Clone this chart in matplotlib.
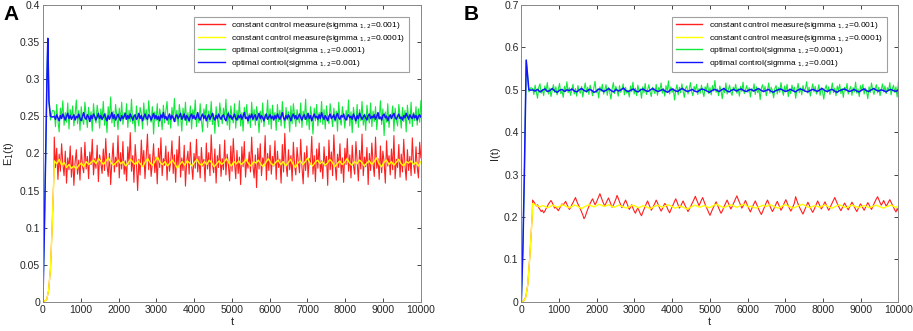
import numpy as np
import matplotlib
matplotlib.use("Agg")
import matplotlib.pyplot as plt
from matplotlib.ticker import FuncFormatter, MultipleLocator

plt.rcParams['font.family'] = ['Liberation Sans', 'DejaVu Sans']

labels = [
    'constant control measure(sigmma $_{1,2}$=0.001)',
    'constant control measure(sigmma $_{1,2}$=0.0001)',
    'optimal control(sigmma $_{1,2}$=0.0001)',
    'optimal control(sigmma $_{1,2}$=0.001)',
]
colors = ['#ff2020', '#ffff00', '#12e83c', '#1414ff']
widths = [0.8, 1.0, 0.8, 1.1]

# ---------- panel A : E1(t) ----------
# start-up part of each curve (t, value)
rise_t_a_const = [0, 100, 150, 200, 240, 270, 290]
rise_a_const = [0, 0.003, 0.015, 0.045, 0.095, 0.14, 0.17]
rise_t_a_opt = [0, 40, 80, 110, 130, 160, 200, 250]
rise_a_green = [0, 0.10, 0.22, 0.31, 0.355, 0.27, 0.245, 0.258]
rise_a_blue = [0, 0.10, 0.22, 0.31, 0.355, 0.27, 0.25, 0.249]

# values from t=300 to t=10000
red_a = [
    0.222, 0.181, 0.207, 0.165, 0.199, 0.176, 0.213, 0.186, 0.170, 0.203, 0.160, 0.194, 0.178, 0.210, 0.168, 0.197, 0.157, 0.188, 0.205, 0.172,
    0.191, 0.164, 0.208, 0.183, 0.174, 0.215, 0.179, 0.196, 0.166, 0.202, 0.185, 0.219, 0.171, 0.193, 0.180, 0.211, 0.162, 0.198, 0.187, 0.173,
    0.206, 0.177, 0.220, 0.184, 0.169, 0.200, 0.158, 0.189, 0.214, 0.175, 0.195, 0.182, 0.224, 0.167, 0.201, 0.179, 0.216, 0.172, 0.190, 0.163,
    0.209, 0.185, 0.228, 0.176, 0.197, 0.161, 0.212, 0.188, 0.150, 0.192, 0.171, 0.218, 0.183, 0.204, 0.166, 0.196, 0.226, 0.178, 0.199, 0.169,
    0.187, 0.213, 0.174, 0.195, 0.159, 0.207, 0.181, 0.221, 0.170, 0.193, 0.184, 0.210, 0.164, 0.202, 0.176, 0.190, 0.217, 0.173, 0.198, 0.161,
    0.205, 0.182, 0.223, 0.168, 0.194, 0.177, 0.211, 0.156, 0.189, 0.203, 0.172, 0.215, 0.185, 0.165, 0.200, 0.180, 0.219, 0.175, 0.196, 0.167,
    0.208, 0.183, 0.192, 0.162, 0.214, 0.179, 0.201, 0.170, 0.225, 0.186, 0.174, 0.206, 0.160, 0.197, 0.181, 0.212, 0.169, 0.193, 0.178, 0.218,
    0.171, 0.199, 0.185, 0.163, 0.210, 0.176, 0.220, 0.188, 0.166, 0.204, 0.173, 0.195, 0.158, 0.209, 0.182, 0.216, 0.168, 0.191, 0.180, 0.202,
    0.175, 0.222, 0.184, 0.167, 0.198, 0.154, 0.207, 0.179, 0.213, 0.170, 0.194, 0.186, 0.224, 0.164, 0.200, 0.177, 0.211, 0.172, 0.196, 0.183,
    0.217, 0.165, 0.203, 0.181, 0.192, 0.160, 0.212, 0.175, 0.227, 0.186, 0.169, 0.205, 0.178, 0.197, 0.163, 0.215, 0.184, 0.171, 0.208, 0.189,
    0.174, 0.219, 0.182, 0.159, 0.201, 0.177, 0.210, 0.168, 0.193, 0.185, 0.223, 0.172, 0.197, 0.162, 0.206, 0.180, 0.214, 0.175, 0.190, 0.166,
    0.209, 0.183, 0.196, 0.157, 0.218, 0.178, 0.202, 0.170, 0.225, 0.187, 0.164, 0.199, 0.181, 0.213, 0.173, 0.194, 0.161, 0.207, 0.185, 0.220,
    0.176, 0.198, 0.167, 0.211, 0.184, 0.172, 0.216, 0.190, 0.163, 0.204, 0.179, 0.226, 0.170, 0.195, 0.182, 0.208, 0.158, 0.200, 0.177, 0.214,
    0.186, 0.169, 0.222, 0.180, 0.193, 0.165, 0.210, 0.174, 0.203, 0.188, 0.160, 0.217, 0.183, 0.197, 0.171, 0.206, 0.178, 0.224, 0.166, 0.192,
    0.181, 0.212, 0.168, 0.199, 0.175, 0.219, 0.184, 0.164, 0.205, 0.177, 0.196, 0.170, 0.221, 0.186, 0.173, 0.209, 0.182, 0.167, 0.215, 0.194,
]
yellow_a = [
    0.190, 0.186, 0.192, 0.184, 0.188, 0.181, 0.185, 0.180, 0.183, 0.179, 0.184, 0.187, 0.182, 0.189, 0.185,
    0.188, 0.191, 0.186, 0.193, 0.189, 0.185, 0.190, 0.194, 0.188, 0.184, 0.187, 0.191, 0.186, 0.189, 0.183,
    0.187, 0.192, 0.188, 0.185, 0.190, 0.186, 0.182, 0.189, 0.193, 0.187, 0.184, 0.190, 0.195, 0.188, 0.185,
    0.189, 0.183, 0.187, 0.191, 0.186, 0.180, 0.185, 0.189, 0.184, 0.190, 0.187, 0.183, 0.188, 0.192, 0.186,
    0.184, 0.189, 0.185, 0.191, 0.187, 0.182, 0.186, 0.190, 0.185, 0.188, 0.193, 0.187, 0.183, 0.189, 0.186,
    0.190, 0.185, 0.188, 0.192, 0.186, 0.183, 0.189, 0.187, 0.191, 0.185, 0.182, 0.188, 0.193, 0.187, 0.184,
    0.188, 0.191, 0.185, 0.189, 0.183, 0.187, 0.192, 0.186, 0.181, 0.187, 0.190, 0.185, 0.189, 0.194, 0.186,
    0.183, 0.188, 0.191, 0.186, 0.189, 0.184, 0.187, 0.192, 0.188, 0.182, 0.186, 0.190, 0.185, 0.188, 0.193,
    0.187, 0.184, 0.189, 0.186, 0.191, 0.188, 0.183, 0.187, 0.190, 0.185, 0.189, 0.194, 0.186, 0.182, 0.188,
    0.191, 0.185, 0.189, 0.184, 0.188, 0.192, 0.186, 0.183, 0.189, 0.187, 0.190, 0.185, 0.188, 0.183, 0.189,
]
green_a = [
    0.257, 0.236, 0.266, 0.244, 0.229, 0.261, 0.249, 0.271, 0.238, 0.255, 0.242, 0.268, 0.233, 0.259, 0.247, 0.264, 0.237, 0.253, 0.272, 0.240,
    0.258, 0.231, 0.263, 0.246, 0.239, 0.269, 0.251, 0.235, 0.262, 0.243, 0.256, 0.230, 0.267, 0.248, 0.241, 0.265, 0.252, 0.234, 0.260, 0.245,
    0.270, 0.238, 0.254, 0.228, 0.263, 0.247, 0.276, 0.241, 0.257, 0.236, 0.266, 0.250, 0.232, 0.261, 0.244, 0.269, 0.239, 0.255, 0.246, 0.267,
    0.235, 0.258, 0.243, 0.273, 0.240, 0.252, 0.229, 0.264, 0.248, 0.237, 0.262, 0.254, 0.233, 0.268, 0.245, 0.259, 0.238, 0.271, 0.250, 0.242,
    0.263, 0.226, 0.256, 0.244, 0.267, 0.236, 0.260, 0.249, 0.232, 0.265, 0.241, 0.257, 0.270, 0.239, 0.253, 0.234, 0.262, 0.247, 0.274, 0.243,
    0.258, 0.237, 0.266, 0.251, 0.230, 0.261, 0.245, 0.269, 0.238, 0.255, 0.242, 0.264, 0.233, 0.259, 0.248, 0.272, 0.236, 0.254, 0.241, 0.267,
    0.244, 0.229, 0.260, 0.250, 0.266, 0.235, 0.257, 0.243, 0.270, 0.239, 0.253, 0.227, 0.263, 0.247, 0.236, 0.268, 0.252, 0.240, 0.261, 0.246,
    0.273, 0.238, 0.256, 0.232, 0.264, 0.249, 0.241, 0.267, 0.234, 0.258, 0.245, 0.271, 0.237, 0.255, 0.230, 0.262, 0.248, 0.266, 0.240, 0.254,
    0.235, 0.269, 0.244, 0.259, 0.238, 0.263, 0.251, 0.228, 0.257, 0.242, 0.268, 0.236, 0.253, 0.247, 0.272, 0.239, 0.260, 0.233, 0.265, 0.246,
    0.255, 0.231, 0.266, 0.243, 0.258, 0.237, 0.270, 0.249, 0.234, 0.262, 0.245, 0.256, 0.229, 0.264, 0.240, 0.267, 0.252, 0.236, 0.259, 0.248,
    0.241, 0.268, 0.235, 0.257, 0.246, 0.273, 0.238, 0.254, 0.232, 0.263, 0.250, 0.226, 0.261, 0.244, 0.266, 0.237, 0.255, 0.242, 0.270, 0.239,
    0.259, 0.233, 0.264, 0.248, 0.240, 0.267, 0.252, 0.236, 0.261, 0.243, 0.257, 0.230, 0.269, 0.246, 0.238, 0.263, 0.250, 0.234, 0.258, 0.245,
    0.272, 0.237, 0.256, 0.228, 0.262, 0.247, 0.240, 0.266, 0.235, 0.259, 0.244, 0.270, 0.238, 0.253, 0.231, 0.265, 0.249, 0.241, 0.268, 0.236,
    0.257, 0.243, 0.263, 0.232, 0.254, 0.246, 0.271, 0.239, 0.260, 0.224, 0.256, 0.242, 0.267, 0.235, 0.252, 0.248, 0.264, 0.230, 0.261, 0.245,
    0.237, 0.266, 0.250, 0.234, 0.262, 0.243, 0.258, 0.229, 0.265, 0.247, 0.240, 0.269, 0.236, 0.255, 0.244, 0.263, 0.238, 0.260, 0.242, 0.271,
]
blue_a = [
    0.250, 0.246, 0.252, 0.248, 0.244, 0.251, 0.247, 0.253, 0.249, 0.245, 0.250, 0.254, 0.247, 0.251, 0.246, 0.249, 0.252, 0.245, 0.250, 0.248,
    0.253, 0.247, 0.244, 0.250, 0.255, 0.248, 0.246, 0.252, 0.249, 0.243, 0.251, 0.247, 0.253, 0.250, 0.245, 0.249, 0.254, 0.247, 0.251, 0.246,
    0.249, 0.253, 0.248, 0.244, 0.251, 0.246, 0.250, 0.255, 0.247, 0.252, 0.245, 0.249, 0.253, 0.248, 0.244, 0.251, 0.247, 0.250, 0.254, 0.246,
    0.251, 0.247, 0.253, 0.249, 0.245, 0.250, 0.252, 0.246, 0.248, 0.254, 0.247, 0.251, 0.244, 0.249, 0.253, 0.248, 0.246, 0.252, 0.250, 0.245,
    0.249, 0.254, 0.247, 0.251, 0.246, 0.250, 0.244, 0.252, 0.248, 0.255, 0.247, 0.250, 0.245, 0.249, 0.253, 0.246, 0.251, 0.248, 0.243, 0.250,
    0.252, 0.247, 0.250, 0.254, 0.246, 0.249, 0.253, 0.245, 0.251, 0.248, 0.244, 0.250, 0.253, 0.247, 0.251, 0.246, 0.249, 0.255, 0.248, 0.245,
    0.250, 0.253, 0.247, 0.251, 0.244, 0.249, 0.252, 0.246, 0.250, 0.254, 0.248, 0.245, 0.251, 0.247, 0.253, 0.249, 0.246, 0.250, 0.252, 0.247,
    0.244, 0.250, 0.254, 0.248, 0.251, 0.246, 0.249, 0.253, 0.247, 0.245, 0.251, 0.248, 0.252, 0.246, 0.250, 0.255, 0.247, 0.249, 0.244, 0.251,
    0.248, 0.253, 0.246, 0.250, 0.252, 0.245, 0.249, 0.254, 0.247, 0.251, 0.248, 0.244, 0.250, 0.253, 0.246, 0.249, 0.252, 0.247, 0.250, 0.245,
    0.251, 0.247, 0.253, 0.249, 0.246, 0.250, 0.255, 0.248, 0.245, 0.251, 0.247, 0.252, 0.249, 0.244, 0.250, 0.253, 0.247, 0.251, 0.246, 0.249,
    0.253, 0.248, 0.245, 0.250, 0.252, 0.246, 0.249, 0.254, 0.247, 0.251, 0.244, 0.249, 0.253, 0.248, 0.250, 0.246, 0.252, 0.247, 0.255, 0.249,
    0.246, 0.251, 0.248, 0.244, 0.250, 0.253, 0.247, 0.249, 0.252, 0.245, 0.250, 0.254, 0.248, 0.246, 0.251, 0.249, 0.253, 0.247, 0.245, 0.250,
    0.252, 0.248, 0.250, 0.246, 0.253, 0.249, 0.244, 0.251, 0.247, 0.254, 0.250, 0.246, 0.249, 0.252, 0.248, 0.245, 0.251, 0.253, 0.247, 0.250,
    0.248, 0.252, 0.246, 0.250, 0.255, 0.247, 0.249, 0.245, 0.251, 0.253, 0.248, 0.250, 0.244, 0.249, 0.252, 0.247, 0.251, 0.254, 0.248, 0.246,
    0.250, 0.253, 0.247, 0.249, 0.245, 0.251, 0.248, 0.254, 0.250, 0.246, 0.252, 0.249, 0.247, 0.253, 0.248, 0.251, 0.245, 0.250, 0.252, 0.249,
]

# ---------- panel B : I(t) ----------
rise_t_b_const = [0, 60, 120, 170, 220, 260, 290]
rise_b_const = [0, 0.002, 0.012, 0.04, 0.10, 0.16, 0.205]
rise_t_b_opt = [0, 40, 80, 110, 130, 160, 200, 250]
rise_b_green = [0, 0.12, 0.30, 0.46, 0.57, 0.54, 0.495, 0.505]
rise_b_blue = [0, 0.12, 0.30, 0.46, 0.57, 0.54, 0.50, 0.499]

red_b = [
    0.240, 0.236, 0.231, 0.226, 0.229, 0.222, 0.218, 0.213, 0.216, 0.210, 0.214, 0.220, 0.225, 0.231, 0.235, 0.239, 0.234, 0.227, 0.221, 0.224,
    0.219, 0.215, 0.220, 0.226, 0.231, 0.228, 0.233, 0.237, 0.230, 0.224, 0.218, 0.222, 0.229, 0.234, 0.240, 0.246, 0.238, 0.231, 0.225, 0.219,
    0.212, 0.205, 0.196, 0.201, 0.210, 0.218, 0.225, 0.232, 0.238, 0.243, 0.236, 0.229, 0.234, 0.241, 0.248, 0.255, 0.247, 0.239, 0.232, 0.226,
    0.233, 0.239, 0.245, 0.238, 0.230, 0.223, 0.228, 0.235, 0.242, 0.251, 0.244, 0.236, 0.229, 0.222, 0.227, 0.234, 0.240, 0.233, 0.225, 0.218,
    0.223, 0.229, 0.221, 0.214, 0.209, 0.216, 0.222, 0.215, 0.208, 0.203, 0.211, 0.218, 0.225, 0.232, 0.238, 0.230, 0.223, 0.216, 0.221, 0.227,
    0.233, 0.240, 0.234, 0.227, 0.220, 0.214, 0.219, 0.226, 0.232, 0.229, 0.222, 0.215, 0.210, 0.217, 0.224, 0.230, 0.237, 0.243, 0.236, 0.228,
    0.221, 0.226, 0.232, 0.238, 0.231, 0.225, 0.219, 0.213, 0.218, 0.224, 0.230, 0.236, 0.242, 0.249, 0.241, 0.234, 0.227, 0.233, 0.240, 0.246,
    0.238, 0.230, 0.223, 0.217, 0.210, 0.204, 0.211, 0.218, 0.224, 0.230, 0.236, 0.229, 0.222, 0.215, 0.209, 0.214, 0.221, 0.228, 0.234, 0.240,
    0.233, 0.226, 0.219, 0.224, 0.231, 0.237, 0.244, 0.250, 0.242, 0.235, 0.228, 0.221, 0.226, 0.233, 0.239, 0.232, 0.225, 0.218, 0.212, 0.219,
    0.226, 0.232, 0.238, 0.231, 0.224, 0.217, 0.211, 0.206, 0.213, 0.220, 0.227, 0.234, 0.240, 0.233, 0.226, 0.219, 0.213, 0.218, 0.225, 0.231,
    0.237, 0.230, 0.223, 0.216, 0.221, 0.228, 0.235, 0.241, 0.234, 0.227, 0.220, 0.214, 0.219, 0.226, 0.233, 0.248, 0.239, 0.231, 0.224, 0.218,
    0.212, 0.207, 0.214, 0.221, 0.228, 0.235, 0.229, 0.222, 0.216, 0.211, 0.217, 0.224, 0.231, 0.238, 0.232, 0.225, 0.219, 0.224, 0.230, 0.236,
    0.229, 0.222, 0.216, 0.221, 0.228, 0.234, 0.240, 0.246, 0.239, 0.232, 0.226, 0.220, 0.215, 0.221, 0.227, 0.233, 0.228, 0.222, 0.217, 0.223,
    0.229, 0.235, 0.230, 0.224, 0.218, 0.213, 0.219, 0.225, 0.231, 0.227, 0.221, 0.216, 0.222, 0.228, 0.234, 0.229, 0.223, 0.218, 0.224, 0.231,
    0.237, 0.243, 0.248, 0.241, 0.234, 0.228, 0.233, 0.239, 0.232, 0.226, 0.230, 0.236, 0.241, 0.235, 0.229, 0.223, 0.217, 0.212, 0.220, 0.214,
]
yellow_b = [
    0.232, 0.229, 0.226, 0.224, 0.227, 0.225, 0.222, 0.224, 0.228, 0.226, 0.223, 0.225, 0.229, 0.227, 0.224,
    0.222, 0.225, 0.228, 0.226, 0.223, 0.220, 0.224, 0.227, 0.229, 0.226, 0.224, 0.227, 0.230, 0.228, 0.225,
    0.227, 0.229, 0.226, 0.223, 0.225, 0.228, 0.226, 0.224, 0.221, 0.223, 0.226, 0.228, 0.225, 0.222, 0.224,
    0.227, 0.225, 0.222, 0.220, 0.223, 0.226, 0.228, 0.225, 0.223, 0.226, 0.229, 0.227, 0.224, 0.221, 0.223,
    0.226, 0.224, 0.221, 0.219, 0.222, 0.225, 0.228, 0.226, 0.223, 0.225, 0.227, 0.224, 0.222, 0.225, 0.228,
    0.230, 0.227, 0.224, 0.222, 0.225, 0.227, 0.229, 0.226, 0.223, 0.225, 0.228, 0.230, 0.227, 0.224, 0.226,
    0.223, 0.221, 0.224, 0.226, 0.228, 0.225, 0.227, 0.229, 0.226, 0.223, 0.221, 0.224, 0.227, 0.229, 0.226,
    0.224, 0.221, 0.223, 0.226, 0.228, 0.230, 0.227, 0.224, 0.222, 0.225, 0.227, 0.225, 0.223, 0.226, 0.228,
    0.226, 0.223, 0.221, 0.224, 0.227, 0.229, 0.226, 0.224, 0.222, 0.225, 0.228, 0.226, 0.224, 0.222, 0.225,
    0.227, 0.225, 0.222, 0.224, 0.226, 0.228, 0.225, 0.223, 0.221, 0.224, 0.226, 0.228, 0.225, 0.223, 0.226,
]
green_b = [
    0.503, 0.489, 0.511, 0.495, 0.480, 0.506, 0.514, 0.492, 0.501, 0.486, 0.509, 0.497, 0.517, 0.490, 0.504, 0.484, 0.499, 0.512, 0.494, 0.507,
    0.488, 0.502, 0.515, 0.491, 0.498, 0.482, 0.508, 0.496, 0.519, 0.493, 0.505, 0.487, 0.500, 0.513, 0.490, 0.503, 0.485, 0.510, 0.497, 0.492,
    0.508, 0.483, 0.501, 0.516, 0.494, 0.506, 0.489, 0.511, 0.499, 0.486, 0.504, 0.520, 0.493, 0.502, 0.481, 0.507, 0.496, 0.513, 0.490, 0.500,
    0.512, 0.487, 0.505, 0.495, 0.478, 0.503, 0.517, 0.491, 0.508, 0.498, 0.485, 0.510, 0.494, 0.501, 0.514, 0.488, 0.506, 0.492, 0.499, 0.483,
    0.509, 0.496, 0.518, 0.490, 0.504, 0.486, 0.511, 0.497, 0.502, 0.480, 0.507, 0.493, 0.515, 0.489, 0.500, 0.512, 0.495, 0.484, 0.506, 0.498,
    0.491, 0.513, 0.487, 0.505, 0.499, 0.516, 0.492, 0.503, 0.485, 0.510, 0.496, 0.521, 0.490, 0.507, 0.494, 0.502, 0.476, 0.500, 0.512, 0.488,
    0.506, 0.493, 0.514, 0.497, 0.482, 0.504, 0.509, 0.490, 0.501, 0.517, 0.495, 0.486, 0.508, 0.499, 0.513, 0.489, 0.503, 0.492, 0.511, 0.496,
    0.484, 0.507, 0.500, 0.515, 0.491, 0.505, 0.488, 0.510, 0.497, 0.522, 0.494, 0.502, 0.486, 0.509, 0.498, 0.479, 0.504, 0.493, 0.516, 0.490,
    0.501, 0.511, 0.495, 0.487, 0.506, 0.499, 0.513, 0.492, 0.503, 0.485, 0.508, 0.496, 0.518, 0.491, 0.500, 0.510, 0.494, 0.505, 0.483, 0.502,
    0.497, 0.514, 0.489, 0.507, 0.493, 0.501, 0.477, 0.504, 0.512, 0.495, 0.508, 0.486, 0.500, 0.516, 0.492, 0.506, 0.498, 0.481, 0.503, 0.510,
    0.490, 0.505, 0.494, 0.517, 0.499, 0.487, 0.509, 0.496, 0.513, 0.484, 0.502, 0.491, 0.511, 0.498, 0.506, 0.480, 0.500, 0.515, 0.493, 0.504,
    0.488, 0.510, 0.497, 0.503, 0.519, 0.492, 0.506, 0.485, 0.501, 0.514, 0.495, 0.508, 0.490, 0.499, 0.512, 0.487, 0.505, 0.496, 0.478, 0.502,
    0.511, 0.494, 0.507, 0.489, 0.500, 0.516, 0.493, 0.504, 0.486, 0.509, 0.498, 0.513, 0.491, 0.503, 0.482, 0.506, 0.497, 0.515, 0.490, 0.501,
    0.508, 0.487, 0.505, 0.495, 0.518, 0.492, 0.502, 0.484, 0.510, 0.499, 0.513, 0.490, 0.504, 0.496, 0.479, 0.507, 0.494, 0.516, 0.500, 0.489,
    0.503, 0.512, 0.493, 0.506, 0.486, 0.501, 0.514, 0.495, 0.509, 0.491, 0.505, 0.498, 0.517, 0.488, 0.502, 0.511, 0.494, 0.507, 0.483, 0.519,
]
blue_b = [
    0.500, 0.497, 0.501, 0.495, 0.499, 0.502, 0.496, 0.498, 0.503, 0.497, 0.494, 0.499, 0.501, 0.496, 0.500,
    0.498, 0.502, 0.497, 0.495, 0.500, 0.503, 0.498, 0.496, 0.501, 0.499, 0.494, 0.497, 0.502, 0.500, 0.496,
    0.499, 0.503, 0.498, 0.495, 0.501, 0.497, 0.500, 0.504, 0.498, 0.496, 0.499, 0.502, 0.497, 0.495, 0.500,
    0.502, 0.498, 0.496, 0.500, 0.503, 0.499, 0.496, 0.498, 0.501, 0.497, 0.494, 0.499, 0.502, 0.498, 0.496,
    0.500, 0.503, 0.499, 0.496, 0.498, 0.501, 0.497, 0.495, 0.499, 0.502, 0.500, 0.497, 0.494, 0.498, 0.501,
    0.499, 0.496, 0.500, 0.503, 0.498, 0.495, 0.499, 0.501, 0.497, 0.500, 0.502, 0.498, 0.496, 0.499, 0.501,
    0.497, 0.500, 0.503, 0.499, 0.496, 0.498, 0.501, 0.497, 0.494, 0.498, 0.500, 0.502, 0.499, 0.496, 0.498,
    0.501, 0.498, 0.495, 0.499, 0.502, 0.500, 0.497, 0.495, 0.498, 0.501, 0.499, 0.496, 0.500, 0.503, 0.498,
    0.496, 0.499, 0.501, 0.497, 0.494, 0.498, 0.500, 0.502, 0.499, 0.496, 0.498, 0.501, 0.497, 0.495, 0.499,
    0.502, 0.498, 0.496, 0.500, 0.503, 0.499, 0.497, 0.500, 0.498, 0.495, 0.499, 0.501, 0.498, 0.496, 0.500,
]


def full_curve(rise_t, rise_v, steady):
    t_steady = np.linspace(300, 10000, len(steady))
    return np.concatenate([rise_t, t_steady]), np.concatenate([rise_v, steady])


def style_axes(ax, ymax, ystep, ylabel):
    ax.set_xlim(0, 10000)
    ax.set_ylim(0, ymax)
    ax.xaxis.set_major_locator(MultipleLocator(1000))
    ax.yaxis.set_major_locator(MultipleLocator(ystep))
    ax.yaxis.set_major_formatter(FuncFormatter(lambda v, p: f'{v:g}'))
    ax.tick_params(direction='in', top=True, right=True, length=3, width=0.6,
                   labelsize=7.5, colors='#262626', pad=2)
    for s in ax.spines.values():
        s.set_color('#888888')
        s.set_linewidth(0.7)
    ax.set_xlabel('t', fontsize=8, labelpad=2, color='#262626')
    ax.set_ylabel(ylabel, fontsize=8, labelpad=3, color='#262626')


fig = plt.figure(figsize=(9.13, 3.31), dpi=100)
ax_a = fig.add_axes([0.047, 0.088, 0.414, 0.897])
ax_b = fig.add_axes([0.571, 0.088, 0.413, 0.897])

panels = [
    (ax_a, [(rise_t_a_const, rise_a_const, red_a), (rise_t_a_const, rise_a_const, yellow_a),
            (rise_t_a_opt, rise_a_green, green_a), (rise_t_a_opt, rise_a_blue, blue_a)],
     0.4, 0.05, 'E$_1$(t)'),
    (ax_b, [(rise_t_b_const, rise_b_const, red_b), (rise_t_b_const, rise_b_const, yellow_b),
            (rise_t_b_opt, rise_b_green, green_b), (rise_t_b_opt, rise_b_blue, blue_b)],
     0.7, 0.1, 'I(t)'),
]

for ax, series, ymax, ystep, ylab in panels:
    for (rt, rv, steady), c, w, lab in zip(series, colors, widths, labels):
        t, y = full_curve(rt, rv, steady)
        ax.plot(t, y, color=c, lw=w, label=lab)
    style_axes(ax, ymax, ystep, ylab)
    leg = ax.legend(loc='upper right', fontsize=6.0, frameon=True, fancybox=False,
                    handlelength=3.2, borderpad=0.45, labelspacing=0.2,
                    bbox_to_anchor=(0.98, 0.975))
    leg.get_frame().set_edgecolor('#888888')
    leg.get_frame().set_linewidth(0.8)
    for h, c in zip(leg.get_lines(), colors):
        h.set_color(c)
        h.set_linewidth(1.0)

fig.text(0.004, 0.985, 'A', fontsize=15, fontweight='bold', va='top')
fig.text(0.508, 0.985, 'B', fontsize=15, fontweight='bold', va='top')

fig.savefig('out.png', dpi=100)
